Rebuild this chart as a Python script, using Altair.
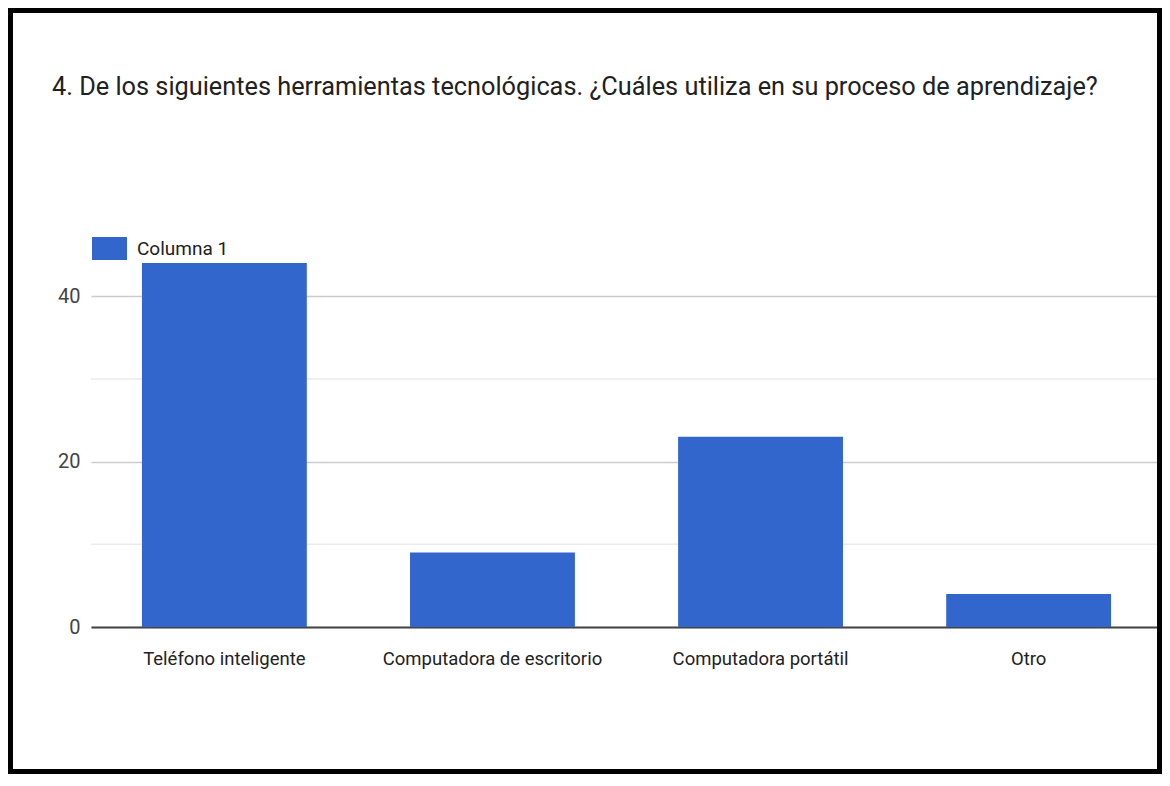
import altair as alt
import pandas as pd

categories = ["Teléfono inteligente", "Computadora de escritorio", "Computadora portátil", "Otro"]
values = [44, 9, 23, 4]
series_name = "Columna 1"
major_ticks = [0, 20, 40]
minor_ticks = [10, 30]
title_text = "4. De los siguientes herramientas tecnológicas. ¿Cuáles utiliza en su proceso de aprendizaje?"

df = pd.DataFrame({"cat": categories, "val": values, "serie": [series_name] * len(categories)})
minor_df = pd.DataFrame({"v": minor_ticks})
title_df = pd.DataFrame({"t": [title_text]})
frame_df = pd.DataFrame({"k": [0]})

PLOT_W = 1071
PLOT_H = 397
PAD_L, PAD_T = 83, 222
TOTAL_W, TOTAL_H = 1154, 766
FONT = "Roboto"
OX, OY = 8 + PAD_L, 8 + PAD_T  # page position of the plot origin

y_scale = alt.Scale(domain=[0, 48], nice=False)
y_axis = alt.Axis(values=major_ticks, ticks=False, domain=False, gridColor="#cccccc",
                  gridWidth=1.5, labelFontSize=20, labelColor="#444",
                  labelPadding=11, labelFont=FONT)

minor = alt.Chart(minor_df).mark_rule(color="#ebebeb", strokeWidth=1.5).encode(
    y=alt.Y("v:Q", scale=y_scale, axis=y_axis, title=None)
)

bars = alt.Chart(df).mark_bar().encode(
    x=alt.X("cat:N", sort=categories, title=None,
            scale=alt.Scale(paddingInner=0.385, paddingOuter=0.19),
            axis=alt.Axis(labelAngle=0, ticks=False, domainColor="#444", domainWidth=2,
                          labelFontSize=18.5, labelColor="#222", labelPadding=22,
                          labelFont=FONT, grid=False, labelLimit=0)),
    y=alt.Y("val:Q", scale=y_scale, title=None, axis=y_axis),
    color=alt.Color("serie:N", scale=alt.Scale(range=["#3366cc"]),
                    legend=alt.Legend(title=None, orient="none", legendX=1, legendY=1,
                                      symbolType="M-1,-0.657H1V0.657H-1Z", symbolSize=1225,
                                      symbolStrokeWidth=0, labelFontSize=19, labelColor="#222",
                                      labelFont=FONT, labelOffset=10, padding=0)),
)

title = alt.Chart(title_df).mark_text(
    align="left", baseline="alphabetic", fontSize=25.3, font=FONT, color="#212121"
).encode(
    text="t:N",
    x=alt.value(52 - OX),
    y=alt.value(95 - OY),
)

frame = alt.Chart(frame_df).mark_rect(fillOpacity=0, stroke="black", strokeWidth=5).encode(
    x=alt.value(10.5 - OX),
    x2=alt.value(1159.5 - OX),
    y=alt.value(10.5 - OY),
    y2=alt.value(771.5 - OY),
)

chart = alt.layer(minor, bars, title, frame).properties(
    width=PLOT_W, height=PLOT_H,
    autosize=alt.AutoSizeParams(type="none"),
    padding={"left": PAD_L, "top": PAD_T, "right": TOTAL_W - PAD_L - PLOT_W,
             "bottom": TOTAL_H - PAD_T - PLOT_H},
).configure(background="white").configure_view(strokeWidth=0, strokeOpacity=0)

chart.save("out.html", embed_options={"renderer": "svg", "actions": False})
